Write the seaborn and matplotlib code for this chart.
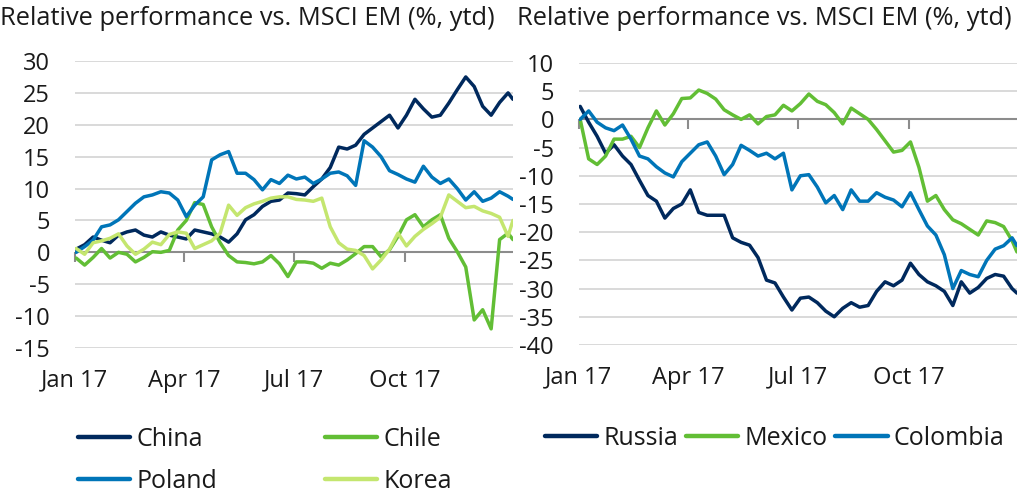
import pandas as pd
import numpy as np
import matplotlib
matplotlib.use("Agg")
import matplotlib.pyplot as plt
import seaborn as sns

# weekly observations, 2017
dates = pd.date_range("2017-01-02", periods=52, freq="7D").append(pd.DatetimeIndex(["2017-12-29"]))

china = [0.5, 1.2, 2.4, 1.9, 1.5, 2.7, 3.2, 3.5, 2.7, 2.4, 3.2, 2.7, 2.4, 2.1, 3.5, 3.2,
         2.9, 2.4, 1.6, 2.9, 5.1, 5.9, 7.2, 8.0, 8.2, 9.3, 9.2, 9.0, 10.3, 11.5, 13.3, 16.5,
         16.2, 16.8, 18.5, 19.5, 20.5, 21.5, 19.5, 21.5, 24.0, 22.5, 21.2, 21.5, 23.4, 25.5,
         27.5, 26.0, 22.9, 21.5, 23.5, 25.0, 24.0]
chile = [-0.9, -2.0, -0.8, 0.6, -0.9, 0.0, -0.3, -1.5, -0.8, 0.1, 0.0, 0.3, 3.5, 5.0, 7.8,
         7.5, 4.0, 1.5, -0.5, -1.5, -1.6, -1.8, -1.5, -0.5, -1.8, -3.8, -1.5, -1.5, -1.7,
         -2.5, -1.7, -2.0, -1.2, -0.2, 0.9, 0.9, -0.7, 0.4, 2.5, 5.1, 5.9, 4.0, 5.1, 5.9,
         2.2, 0.1, -2.3, -10.6, -9.0, -12.0, 2.0, 3.0, 2.0]
poland = [0.0, 0.9, 1.9, 4.0, 4.3, 5.1, 6.4, 7.7, 8.7, 9.0, 9.5, 9.3, 8.2, 5.6, 7.4, 8.7,
          14.5, 15.3, 15.8, 12.4, 12.4, 11.4, 9.8, 11.4, 10.8, 12.1, 11.5, 11.8, 10.8, 11.5,
          12.4, 12.6, 12.0, 10.5, 17.5, 16.5, 15.0, 12.8, 12.2, 11.5, 11.0, 13.5, 11.8, 10.8,
          11.5, 10.0, 8.2, 9.5, 8.0, 8.5, 9.5, 8.8, 8.3]
korea = [0.6, -0.3, 1.5, 1.8, 2.2, 2.9, 1.0, -0.3, 0.5, 1.6, 1.2, 2.8, 3.2, 3.0, 0.6, 1.2,
         1.8, 3.0, 7.4, 5.8, 7.0, 7.6, 8.0, 8.5, 8.7, 8.7, 8.3, 8.2, 8.0, 8.5, 4.0, 1.5, 0.5,
         0.3, -0.5, -2.6, -1.2, 0.5, 3.0, 1.0, 2.5, 3.6, 4.5, 5.5, 9.0, 8.0, 7.0, 7.2, 6.5,
         6.1, 5.5, 2.5, 5.0]

russia = [2.3, -0.5, -3.0, -6.0, -4.5, -6.5, -8.0, -10.8, -13.5, -14.5, -17.5, -15.8, -15.0,
          -12.5, -16.5, -17.0, -17.0, -17.0, -21.0, -21.8, -22.3, -24.5, -28.5, -29.0, -31.5,
          -33.8, -31.7, -31.5, -32.5, -34.0, -35.0, -33.5, -32.5, -33.3, -33.0, -30.5, -28.8,
          -29.5, -28.5, -25.5, -27.5, -28.8, -29.5, -30.5, -33.0, -28.8, -30.8, -29.8, -28.2,
          -27.5, -27.8, -30.0, -30.8]
mexico = [0.0, -7.0, -8.0, -6.5, -3.5, -3.5, -3.0, -5.0, -1.5, 1.5, -1.0, 1.0, 3.7, 3.8, 5.2,
          4.6, 3.6, 1.7, 0.8, 0.0, 0.8, -0.8, 0.5, 0.8, 2.5, 1.5, 2.8, 4.5, 3.2, 2.6, 1.2, -0.8,
          2.0, 1.0, 0.0, -1.8, -3.8, -5.8, -5.5, -4.0, -8.5, -14.5, -13.5, -16.0, -17.8, -18.5,
          -19.5, -20.5, -18.0, -18.3, -19.0, -21.5, -23.5]
colombia = [0.0, 1.5, -0.5, -1.5, -2.0, -1.0, -3.5, -6.5, -7.0, -8.4, -9.5, -10.2, -7.5, -6.0,
            -4.5, -4.0, -6.5, -9.8, -8.0, -4.6, -5.5, -6.5, -6.0, -7.0, -6.0, -12.5, -10.0,
            -9.8, -12.0, -14.8, -13.5, -16.0, -12.5, -14.5, -14.5, -13.0, -13.8, -14.3, -15.5,
            -13.0, -16.0, -18.9, -20.5, -24.0, -30.0, -26.8, -27.5, -27.9, -25.0, -23.0, -22.4,
            -21.0, -22.4]

left_series = {"China": china, "Chile": chile, "Poland": poland, "Korea": korea}
right_series = {"Russia": russia, "Mexico": mexico, "Colombia": colombia}

navy = "#00295D"
green = "#62BE35"
blue = "#0075B8"
light = "#C4E66F"
left_colors = {"China": navy, "Chile": green, "Poland": blue, "Korea": light}
right_colors = {"Russia": navy, "Mexico": green, "Colombia": blue}

title = "Relative performance vs. MSCI EM (%, ytd)"
qticks = pd.to_datetime(["2017-01-01", "2017-04-01", "2017-07-01", "2017-10-01"])
qlabels = ["Jan 17", "Apr 17", "Jul 17", "Oct 17"]

FS = 17
LFS = 18

sns.set_theme(style="white")
plt.rcParams["font.family"] = ["Open Sans", "DejaVu Sans"]
plt.rcParams["text.color"] = "#1a1a1a"

fig = plt.figure(figsize=(10.24, 4.92), dpi=100)
ax1 = fig.add_axes([0.0732, 0.2927, 0.4277, 0.5833])
ax2 = fig.add_axes([0.5654, 0.2988, 0.4277, 0.5732])


def draw(ax, series, colors, ylim, yticks):
    df = pd.DataFrame(series, index=dates).reset_index(names="date")
    df = df.melt(id_vars="date", var_name="country", value_name="value")
    sns.lineplot(data=df, x="date", y="value", hue="country", palette=colors,
                 hue_order=list(series.keys()), linewidth=2.5, ax=ax, legend=False)
    ax.set_xlim(pd.Timestamp("2017-01-01"), pd.Timestamp("2017-12-29"))
    ax.set_ylim(*ylim)
    ax.set_yticks(yticks)
    ax.set_yticklabels([str(t) for t in yticks])
    ax.grid(axis="y", color="#d9d9d9", linewidth=1.4)
    ax.grid(axis="x", visible=False)
    ax.set_axisbelow(True)
    for s in ax.spines.values():
        s.set_visible(False)
    ax.axhline(0, color="#8c8c8c", linewidth=1.5, zorder=1)
    ax.set_xticks(qticks)
    ax.set_xticklabels(qlabels)
    ax.tick_params(axis="x", length=0, pad=15, labelsize=FS, labelcolor="#1a1a1a")
    ax.tick_params(axis="y", length=0, pad=18, labelsize=FS, labelcolor="#1a1a1a")
    ax.set_xlabel("")
    ax.set_ylabel("")
    # small quarter ticks hanging from the zero line
    zero = (0 - ylim[0]) / (ylim[1] - ylim[0])
    sec = ax.secondary_xaxis(zero)
    sec.set_xticks(qticks)
    sec.tick_params(axis="x", direction="out", length=7, width=1.5, color="#8c8c8c",
                    labelbottom=False, labeltop=False)
    sec.xaxis.set_ticks_position("bottom")
    sec.spines["bottom"].set_visible(False)
    sec.spines["top"].set_visible(False)
    sec.set_xticklabels([])


draw(ax1, left_series, left_colors, (-15, 30), list(range(-15, 31, 5)))
draw(ax2, right_series, right_colors, (-40, 10), list(range(-40, 11, 5)))

fig.text(0.0, 0.962, title, fontsize=18.3, va="center", ha="left")
fig.text(0.505, 0.962, title, fontsize=18.3, va="center", ha="left")

h1 = [plt.Line2D([], [], color=left_colors[k], linewidth=3.2) for k in ["China", "Poland", "Chile", "Korea"]]
fig.legend(h1, ["China", "Poland", "Chile", "Korea"], ncol=2, loc="upper left",
           bbox_to_anchor=(0.076, 0.133), frameon=False, fontsize=LFS, handlelength=2.1,
           handletextpad=0.25, columnspacing=4.3, labelspacing=0.68, borderpad=0, borderaxespad=0)
h2 = [plt.Line2D([], [], color=right_colors[k], linewidth=3.2) for k in right_series]
fig.legend(h2, list(right_series.keys()), ncol=3, loc="upper left",
           bbox_to_anchor=(0.532, 0.135), frameon=False, fontsize=LFS, handlelength=2.1,
           handletextpad=0.25, columnspacing=0.3, borderpad=0, borderaxespad=0)

fig.savefig("out.png", dpi=100)
